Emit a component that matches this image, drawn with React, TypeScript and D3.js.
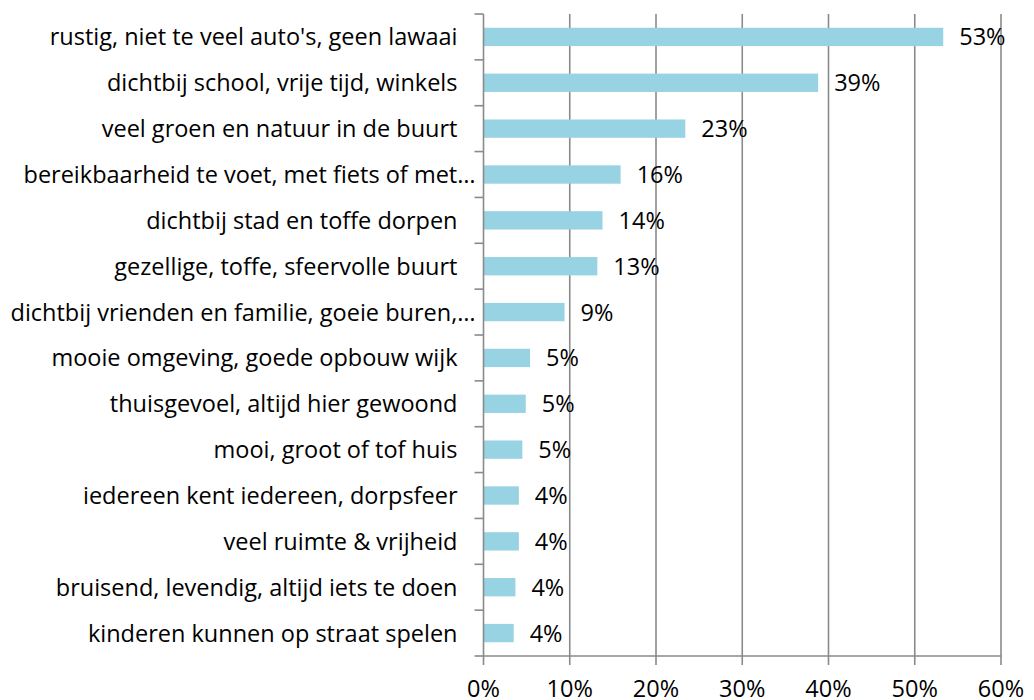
import * as d3 from 'd3'
import { useEffect, useRef } from 'react'

// categories top to bottom, as shown (long ones truncated like in the source)
const categories = [
  "rustig, niet te veel auto's, geen lawaai",
  'dichtbij school, vrije tijd, winkels',
  'veel groen en natuur in de buurt',
  'bereikbaarheid te voet, met fiets of met…',
  'dichtbij stad en toffe dorpen',
  'gezellige, toffe, sfeervolle buurt',
  'dichtbij vrienden en familie, goeie buren,…',
  'mooie omgeving, goede opbouw wijk',
  'thuisgevoel, altijd hier gewoond',
  'mooi, groot of tof huis',
  'iedereen kent iedereen, dorpsfeer',
  'veel ruimte & vrijheid',
  'bruisend, levendig, altijd iets te doen',
  'kinderen kunnen op straat spelen',
]

// percentages
const values = [53.3, 38.8, 23.4, 15.9, 13.8, 13.2, 9.4, 5.4, 4.9, 4.5, 4.1, 4.1, 3.7, 3.5]

const xTicks = [0, 10, 20, 30, 40, 50, 60]

export default function App() {
  const svgRef = useRef(null)

  const width = 1034
  const height = 700
  const left = 483.5
  const right = 1001
  const top = 14
  const bottom = 656

  const font = '"Open Sans", sans-serif'
  const fontSize = '23.5px'
  const axisColor = '#8a8a8a'

  useEffect(() => {
    const svg = d3.select(svgRef.current)
    svg.selectAll('*').remove()

    const x = d3.scaleLinear().domain([0, 60]).range([left, right])
    const y = d3.scaleBand()
      .domain(categories)
      .range([top, bottom])
      .paddingInner(0.6)
      .paddingOuter(0.3)

    const step = y.step()
    const half = (step - y.bandwidth()) / 2

    // vertical gridlines
    svg.selectAll('.grid')
      .data(xTicks.slice(1))
      .enter()
      .append('line')
      .attr('x1', d => x(d))
      .attr('x2', d => x(d))
      .attr('y1', top)
      .attr('y2', bottom + 9)
      .style('stroke', axisColor)
      .style('stroke-width', 1.6)

    // bars
    svg.selectAll('.bar')
      .data(values)
      .enter()
      .append('rect')
      .attr('x', x(0))
      .attr('y', (d, i) => y(categories[i])!)
      .attr('width', d => x(d) - x(0))
      .attr('height', y.bandwidth())
      .style('fill', '#98d3e4')

    // value labels
    svg.selectAll('.val')
      .data(values)
      .enter()
      .append('text')
      .attr('x', d => x(d) + 16)
      .attr('y', (d, i) => y(categories[i])! + y.bandwidth() / 2)
      .attr('dy', '0.36em')
      .style('font-family', font)
      .style('font-size', fontSize)
      .style('fill', '#000')
      .text(d => Math.round(d) + '%')

    // y axis line and ticks at band edges
    svg.append('line')
      .attr('x1', left)
      .attr('x2', left)
      .attr('y1', top)
      .attr('y2', bottom)
      .style('stroke', axisColor)
      .style('stroke-width', 1.6)

    const edges = categories.map(c => y(c)! - half).concat([bottom])
    svg.selectAll('.ytick')
      .data(edges)
      .enter()
      .append('line')
      .attr('x1', left - 9)
      .attr('x2', left)
      .attr('y1', d => d)
      .attr('y2', d => d)
      .style('stroke', axisColor)
      .style('stroke-width', 1.6)

    // category labels
    svg.selectAll('.cat')
      .data(categories)
      .enter()
      .append('text')
      .attr('x', d => (d.endsWith('…') ? left - 8 : left - 26))
      .attr('y', d => y(d)! + y.bandwidth() / 2)
      .attr('dy', '0.36em')
      .attr('text-anchor', 'end')
      .style('font-family', font)
      .style('font-size', fontSize)
      .style('fill', '#000')
      .text(d => d)

    // x axis
    svg.append('line')
      .attr('x1', left)
      .attr('x2', right)
      .attr('y1', bottom)
      .attr('y2', bottom)
      .style('stroke', axisColor)
      .style('stroke-width', 1.6)

    svg.append('line')
      .attr('x1', left)
      .attr('x2', left)
      .attr('y1', bottom)
      .attr('y2', bottom + 9)
      .style('stroke', axisColor)
      .style('stroke-width', 1.6)

    svg.selectAll('.xlab')
      .data(xTicks)
      .enter()
      .append('text')
      .attr('x', d => x(d))
      .attr('y', 697)
      .attr('text-anchor', 'middle')
      .style('font-family', font)
      .style('font-size', fontSize)
      .style('fill', '#000')
      .text(d => d + '%')
  }, [svgRef])

  return (
    <svg
      ref={svgRef}
      width={width}
      height={height}
      style={{ position: 'absolute', left: 0, top: 0, background: '#fff', display: 'block' }}
    />
  )
}
